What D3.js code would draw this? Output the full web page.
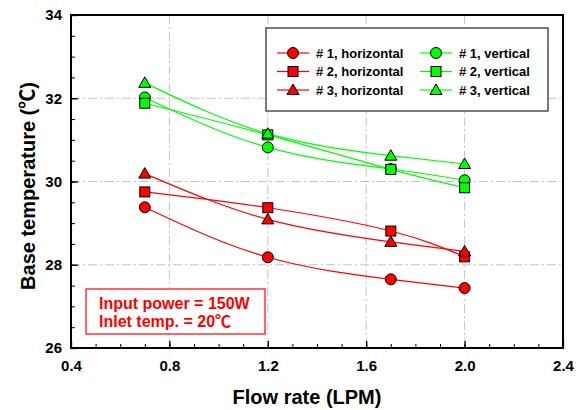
<!DOCTYPE html>
<html>
<head>
<meta charset="utf-8">
<script src="https://cdn.jsdelivr.net/npm/d3@7"></script>
<style>
  body { margin: 0; background: #fff; }
  svg { display: block; }
  text { font-family: "Liberation Sans", Arial, "Noto Sans CJK KR", sans-serif; font-weight: bold; }
</style>
</head>
<body>
<svg id="chart" width="576" height="410"></svg>
<script>
// data
const flowRate = [0.7, 1.2, 1.7, 2.0];
const h1 = [29.38, 28.18, 27.65, 27.44];
const h2 = [29.75, 29.37, 28.81, 28.19];
const h3 = [30.19, 29.09, 28.55, 28.32];
const v1 = [32.02, 30.82, 30.30, 30.03];
const v2 = [31.88, 31.12, 30.29, 29.85];
const v3 = [32.37, 31.15, 30.62, 30.42];
const xTicks = [0.4, 0.8, 1.2, 1.6, 2.0, 2.4];
const yTicks = [26, 28, 30, 32, 34];
const seriesNames = ["# 1, horizontal", "# 2, horizontal", "# 3, horizontal",
                     "# 1, vertical", "# 2, vertical", "# 3, vertical"];

const series = [
  { name: seriesNames[0], values: h1, color: "#ff0000", shape: "circle" },
  { name: seriesNames[1], values: h2, color: "#ff0000", shape: "square" },
  { name: seriesNames[2], values: h3, color: "#ff0000", shape: "triangle" },
  { name: seriesNames[3], values: v1, color: "#00ff00", shape: "circle" },
  { name: seriesNames[4], values: v2, color: "#00ff00", shape: "square" },
  { name: seriesNames[5], values: v3, color: "#00ff00", shape: "triangle" }
];

const svg = d3.select("#chart");
const pLeft = 71, pRight = 563, pTop = 15, pBottom = 348;

const x = d3.scaleLinear().domain([0.4, 2.4]).range([pLeft, pRight]);
const y = d3.scaleLinear().domain([26, 34]).range([pBottom, pTop]);

// grid (dash-dot)
const grid = svg.append("g").attr("stroke", "#c4c4c4").attr("stroke-width", 1)
  .attr("stroke-dasharray", "9,3,2,3");
grid.selectAll(".gx").data(xTicks.slice(1, -1)).enter().append("line")
  .attr("x1", d => x(d)).attr("x2", d => x(d)).attr("y1", pTop).attr("y2", pBottom);
grid.selectAll(".gy").data(yTicks.slice(1, -1)).enter().append("line")
  .attr("x1", pLeft).attr("x2", pRight).attr("y1", d => y(d)).attr("y2", d => y(d));

// minor ticks
svg.append("g").attr("transform", "translate(0," + pBottom + ")")
  .call(d3.axisBottom(x).tickValues(d3.range(4, 25).map(d => d / 10)).tickSize(-4).tickFormat(""))
  .call(g => g.select(".domain").remove())
  .selectAll("line").attr("stroke", "#000");
svg.append("g").attr("transform", "translate(" + pLeft + ",0)")
  .call(d3.axisLeft(y).tickValues(d3.range(52, 69).map(d => d / 2)).tickSize(-4).tickFormat(""))
  .call(g => g.select(".domain").remove())
  .selectAll("line").attr("stroke", "#000");

// major ticks + labels
const xAxis = svg.append("g").attr("transform", "translate(0," + pBottom + ")")
  .call(d3.axisBottom(x).tickValues(xTicks).tickSize(-7).tickPadding(12).tickFormat(d3.format(".1f")));
xAxis.select(".domain").remove();
xAxis.selectAll("line").attr("stroke", "#000").attr("stroke-width", 1.3);
xAxis.selectAll("text").attr("font-size", 15).attr("fill", "#000")
  .attr("font-family", "'Liberation Sans', Arial, sans-serif");

const yAxis = svg.append("g").attr("transform", "translate(" + pLeft + ",0)")
  .call(d3.axisLeft(y).tickValues(yTicks).tickSize(-7).tickPadding(9).tickFormat(d3.format("d")));
yAxis.select(".domain").remove();
yAxis.selectAll("line").attr("stroke", "#000").attr("stroke-width", 1.3);
yAxis.selectAll("text").attr("font-size", 15).attr("fill", "#000")
  .attr("font-family", "'Liberation Sans', Arial, sans-serif");

// frame
svg.append("rect").attr("x", pLeft).attr("y", pTop)
  .attr("width", pRight - pLeft).attr("height", pBottom - pTop)
  .attr("fill", "none").attr("stroke", "#000").attr("stroke-width", 2);

// lines
const line = d3.line().x((d, i) => x(flowRate[i])).y(d => y(d)).curve(d3.curveNatural);
svg.append("g").selectAll("path").data(series).enter().append("path")
  .attr("d", d => line(d.values))
  .attr("fill", "none").attr("stroke", d => d.color).attr("stroke-width", 1.2);

function marker(sel, shape, color) {
  if (shape === "circle") {
    sel.append("circle").attr("r", 5.5);
  } else if (shape === "square") {
    sel.append("rect").attr("x", -5).attr("y", -5).attr("width", 10).attr("height", 10);
  } else {
    sel.append("path").attr("d", "M0,-6L6,4.5L-6,4.5Z");
  }
  sel.selectAll("*").attr("fill", color).attr("stroke", "#000").attr("stroke-width", 1);
}

// markers
series.forEach(s => {
  s.values.forEach((v, i) => {
    const g = svg.append("g").attr("transform", "translate(" + x(flowRate[i]) + "," + y(v) + ")");
    marker(g, s.shape, s.color);
  });
});

// legend
const legend = svg.append("g");
legend.append("rect").attr("x", 266).attr("y", 28).attr("width", 282).attr("height", 83)
  .attr("fill", "#fff").attr("stroke", "#333").attr("stroke-width", 1.3);
series.forEach((s, k) => {
  const col = Math.floor(k / 3), row = k % 3;
  const lx = col === 0 ? 277 : 420;
  const ly = 53 + row * 18.5;
  const item = legend.append("g").attr("transform", "translate(" + lx + "," + ly + ")");
  item.append("line").attr("x1", 0).attr("x2", 32).attr("stroke", s.color).attr("stroke-width", 1.2);
  marker(item.append("g").attr("transform", "translate(16,0)"), s.shape, s.color);
  item.append("text").attr("x", 39).attr("y", 4.5).attr("font-size", 13).text(s.name);
});

// annotation box
svg.append("rect").attr("x", 86).attr("y", 289).attr("width", 179).attr("height", 45)
  .attr("fill", "#fff").attr("stroke", "#ff0000").attr("stroke-width", 1.2);
svg.append("text").attr("x", 99).attr("y", 309).attr("font-size", 16).attr("fill", "#ff0000")
  .text("Input power = 150W");
svg.append("text").attr("x", 99).attr("y", 327).attr("font-size", 16).attr("fill", "#ff0000")
  .text("Inlet temp. = 20℃");

// axis titles
svg.append("text").attr("x", 307).attr("y", 404).attr("text-anchor", "middle")
  .attr("font-size", 20).text("Flow rate (LPM)");
svg.append("text").attr("transform", "translate(35,186) rotate(-90)").attr("text-anchor", "middle")
  .attr("font-size", 20).text("Base temperature (℃)");
</script>
</body>
</html>
